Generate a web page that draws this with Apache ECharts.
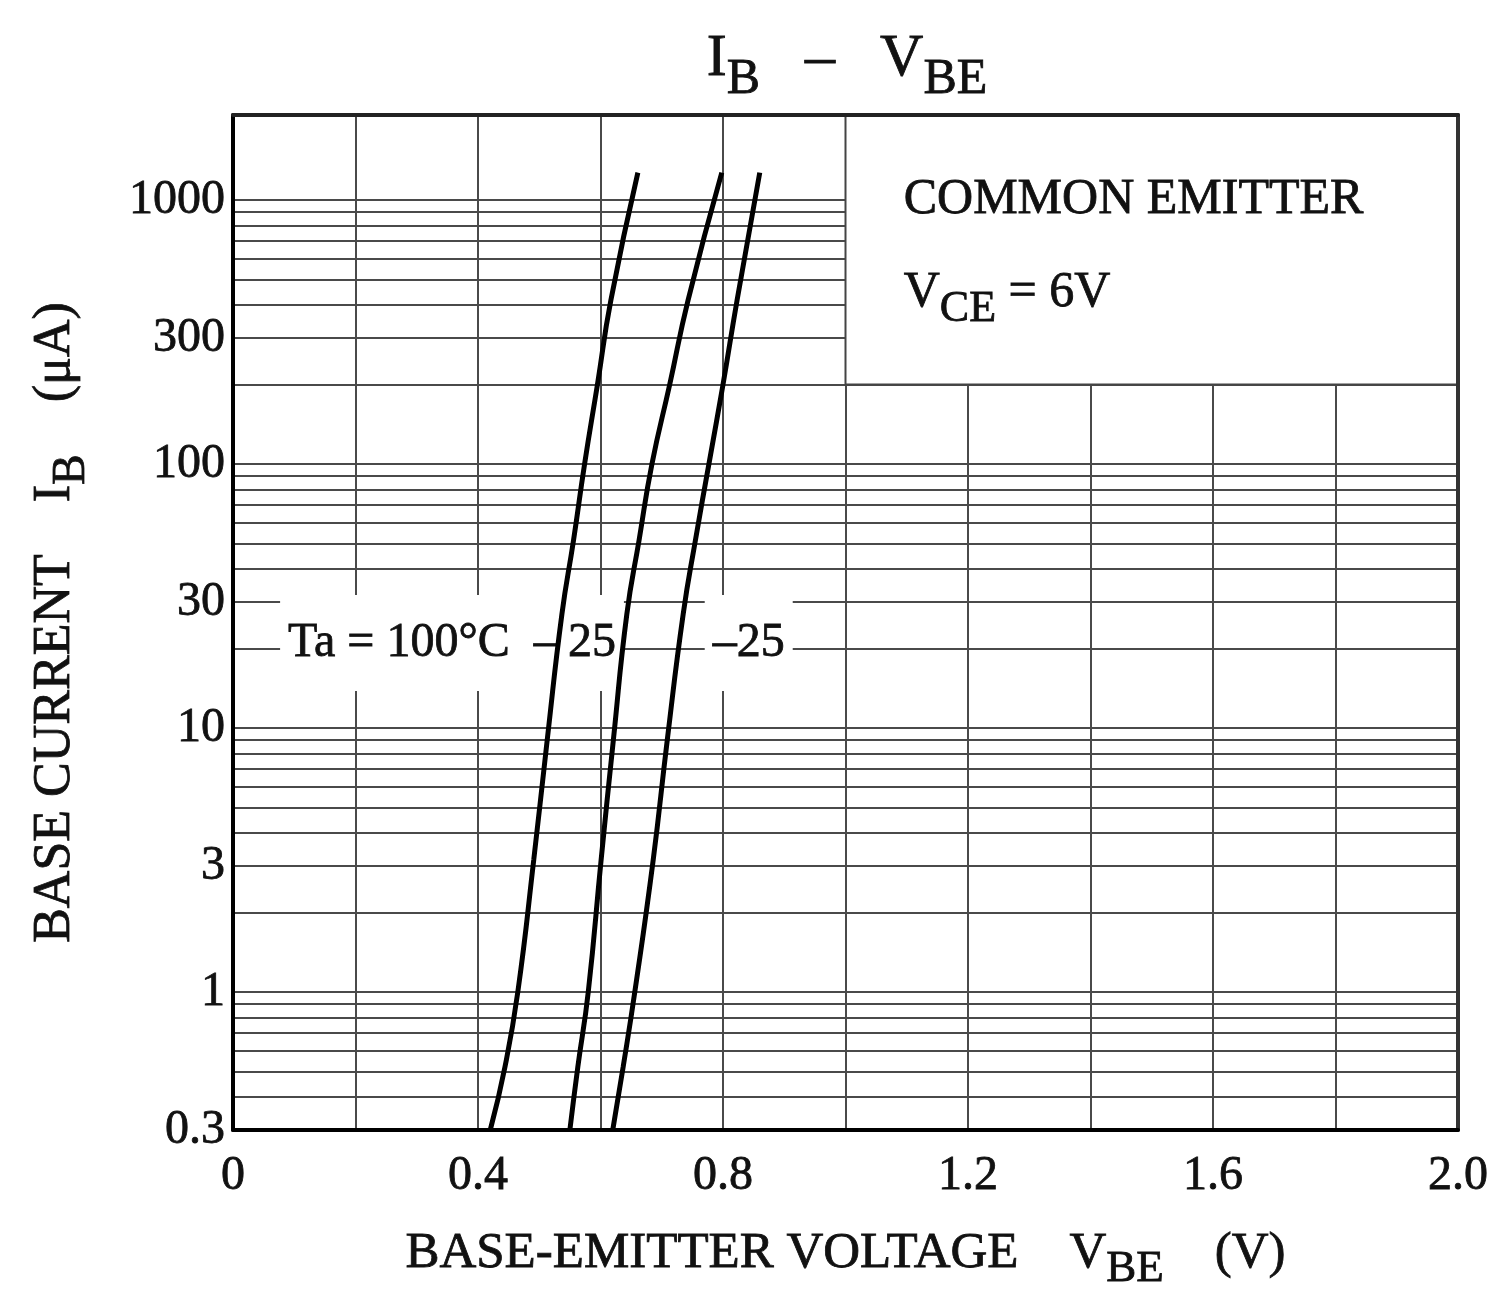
<!DOCTYPE html>
<html>
<head>
<meta charset="utf-8">
<script src="https://cdn.jsdelivr.net/npm/echarts@6/dist/echarts.min.js"></script>
<style>html,body{margin:0;padding:0;background:#fff}#c{width:1492px;height:1304px}</style>
</head>
<body>
<div id="c"></div>
<script>
// ---- data ----
const xTickValues = [0, 0.4, 0.8, 1.2, 1.6, 2.0];
const yTickLabels = [0.3, 1, 3, 10, 30, 100, 300, 1000];
const vGridValues = [0.2, 0.4, 0.6, 0.8, 1.0, 1.2, 1.4, 1.6, 1.8];
const hGridValues = [0.3,0.4,0.5,0.6,0.7,0.8,0.9,1,2,3,4,5,6,7,8,9,10,20,30,40,50,60,70,80,90,100,200,300,400,500,600,700,800,900,1000];
// IB (uA) levels at which the curves were read
const ibLevels = [0.3, 0.52, 1, 3.16, 9.0, 27, 51.5, 100, 200, 418, 1270];
// VBE (V) of each curve at those levels
const vbe100 = [0.420, 0.444, 0.465, 0.491, 0.513, 0.537, 0.556, 0.574, 0.595, 0.617, 0.661];
const vbe25  = [0.550, 0.563, 0.580, 0.601, 0.621, 0.643, 0.663, 0.684, 0.713, 0.743, 0.798];
const vbeM25 = [0.620, 0.637, 0.656, 0.686, 0.709, 0.735, 0.755, 0.777, 0.800, 0.823, 0.860];

const FONT = 'Liberation Serif';
const TXT = '#111';
const bold = {textBorderColor: '#111', textBorderWidth: 0.8};
const pair = (xs) => xs.map((v, i) => [v, ibLevels[i]]);

const chart = echarts.init(document.getElementById('c'));
const fmtY = v => (v < 1 ? Number(v).toFixed(1) : String(Math.round(v)));
const subRich = (main, sub) => ({
  t: Object.assign({fontFamily: FONT, fontSize: main, color: TXT, fontWeight: 'normal', padding: [0, 0, Math.round(main * 0.26), 0], verticalAlign: 'bottom'}, bold),
  s: Object.assign({fontFamily: FONT, fontSize: sub, color: TXT, fontWeight: 'normal', verticalAlign: 'bottom'}, bold)
});

chart.setOption({
  backgroundColor: '#fff',
  animation: false,
  title: {
    text: '{t|I}{s|B}{t|   –   V}{s|BE}',
    left: 842, top: 24, textAlign: 'center',
    textStyle: {fontWeight: 'normal', rich: subRich(60, 50)}
  },
  grid: {left: 233, right: 34, top: 115, bottom: 174, show: false},
  xAxis: [{
    type: 'value', min: 0, max: 2.0, interval: 0.4, z: 8,
    axisLine: {show: true, lineStyle: {color: '#000', width: 4}},
    axisTick: {show: false}, splitLine: {show: false},
    axisLabel: Object.assign({fontFamily: FONT, fontSize: 48, color: TXT, margin: 22,
      formatter: v => (v === 0 ? '0' : v.toFixed(1))}, bold),
    name: '{t|BASE-EMITTER VOLTAGE    V}{s|BE}{t|    (V)}',
    nameLocation: 'middle', nameGap: 98,
    nameTextStyle: {rich: subRich(51, 45)}
  }, {
    type: 'value', min: 0, max: 2.0, position: 'top', z: 8,
    axisLine: {show: true, onZero: false, lineStyle: {color: '#222', width: 4}},
    axisTick: {show: false}, axisLabel: {show: false}, splitLine: {show: false}
  }],
  yAxis: [{
    type: 'log', logBase: 10, min: 0.3, max: 2100, z: 8,
    axisLine: {show: true, onZero: false, lineStyle: {color: '#000', width: 4}},
    axisTick: {show: false}, splitLine: {show: false}, minorSplitLine: {show: false},
    axisLabel: Object.assign({fontFamily: FONT, fontSize: 48, color: TXT, margin: 8,
      customValues: yTickLabels, formatter: fmtY}, bold),
    name: '{t|BASE CURRENT    I}{s|B}{t|    (μA)}',
    nameLocation: 'middle', nameGap: 138, nameRotate: 90,
    nameTextStyle: {rich: subRich(52, 46)}
  }, {
    type: 'log', logBase: 10, min: 0.3, max: 2100, position: 'right', z: 8,
    axisLine: {show: true, onZero: false, lineStyle: {color: '#333', width: 4}},
    axisTick: {show: false}, axisLabel: {show: false}, splitLine: {show: false}
  }],
  series: [
    { // grid lines
      type: 'line', data: [], z: 1, silent: true,
      markLine: {
        z: 1, silent: true, symbol: 'none', animation: false,
        label: {show: false},
        lineStyle: {color: '#4a4a4a', width: 2, type: 'solid'},
        emphasis: {disabled: true},
        data: vGridValues.map(v => ({xAxis: v})).concat(hGridValues.map(v => ({yAxis: v})))
      }
    },
    { // conditions box
      type: 'line', data: [], z: 3, silent: true,
      markArea: {
        z: 3, silent: true,
        itemStyle: {color: '#fff', opacity: 1, borderColor: '#444', borderWidth: 2},
        emphasis: {disabled: true},
        data: [[{coord: [1.0, 200]}, {coord: [2.0, 2100]}]]
      },
      markPoint: {
        z: 4, silent: true, symbol: 'circle', symbolSize: 0,
        label: Object.assign({show: true, position: 'right', distance: 0, color: TXT, fontFamily: FONT, fontSize: 50}, bold),
        data: [
          {coord: [1.095, 1000], label: {formatter: 'COMMON EMITTER'}},
          {coord: [1.095, 420], label: {formatter: '{t|V}{s|CE}{t| = 6V}', rich: subRich(50, 44)}}
        ]
      }
    },
    { // temperature labels
      type: 'line', data: [], z: 3, silent: true,
      markPoint: {
        z: 3, silent: true, symbol: 'circle', symbolSize: 0,
        label: Object.assign({show: true, position: 'inside', color: TXT, fontFamily: FONT, fontSize: 48,
          backgroundColor: '#fff', padding: [24, 8]}, bold),
        data: [
          {coord: [0.31, 21], label: {formatter: 'Ta = 100°C  –'}},
          {coord: [0.586, 21], label: {formatter: '25'}},
          {coord: [0.842, 21], label: {formatter: '–25'}}
        ]
      }
    },
    {name: 'Ta=100°C', type: 'line', data: pair(vbe100), smooth: 0.5, showSymbol: false, z: 6,
      lineStyle: {color: '#000', width: 5}},
    {name: 'Ta=25°C', type: 'line', data: pair(vbe25), smooth: 0.5, showSymbol: false, z: 6,
      lineStyle: {color: '#000', width: 5}},
    {name: 'Ta=-25°C', type: 'line', data: pair(vbeM25), smooth: 0.5, showSymbol: false, z: 6,
      lineStyle: {color: '#000', width: 5}}
  ]
});
</script>
</body>
</html>
